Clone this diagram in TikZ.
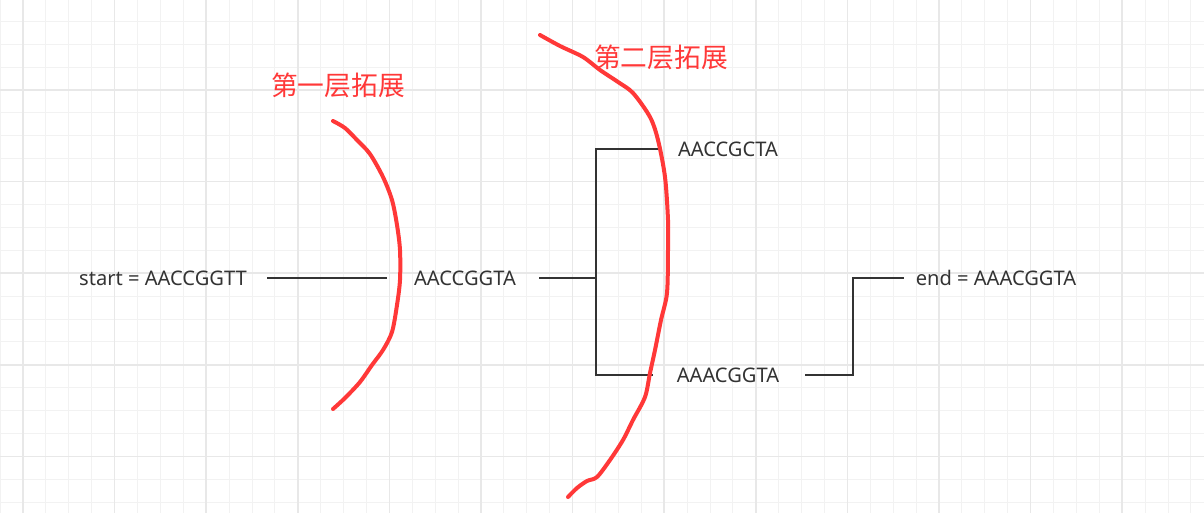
\documentclass[tikz,border=0pt]{standalone}
\usepackage{fontspec}
\setmainfont{Noto Sans}
\newfontfamily\cjk{Noto Sans CJK SC}
\definecolor{hand}{RGB}{255,56,56}
\definecolor{ink}{RGB}{51,51,51}
\begin{document}
\begin{tikzpicture}[x=0.025cm, y=-0.025cm,
    seq/.style={inner sep=0pt, font=\fontsize{14.3}{16}\selectfont, text=ink},
    layer/.style={inner sep=0pt, font=\cjk\fontsize{19}{22}\selectfont, text=hand},
    link/.style={draw=ink, line width=0.05cm},
    front/.style={draw=hand, line width=0.1cm, line cap=round, line join=round},
    minor/.style={draw=black!5, line width=0.025cm},
    major/.style={draw=black!9, line width=0.04cm}]
    \useasboundingbox (0,0) rectangle (1204,513);
    \fill[white] (0,0) rectangle (1204,513);

    % grid paper
    \foreach \i in {0,...,52} \draw[minor] ({0.1+22.9*\i},0) -- ({0.1+22.9*\i},513);
    \foreach \j in {0,...,22} \draw[minor] (0,{-1.6+22.9*\j}) -- (1204,{-1.6+22.9*\j});
    \foreach \i in {0,...,12} \draw[major] ({23+91.6*\i},0) -- ({23+91.6*\i},513);
    \foreach \j in {1,...,5} \draw[major] (0,{-1.6+91.6*\j}) -- (1204,{-1.6+91.6*\j});

    \node[seq] (s) at (163,278) {start = AACCGGTT};
    \node[seq] (a) at (465,278) {AACCGGTA};
    \node[seq] (b) at (728,149) {AACCGCTA};
    \node[seq] (c) at (728,375) {AAACGGTA};
    \node[seq] (e) at (996,278) {end = AAACGGTA};
    \coordinate (j) at (596,278);
    \coordinate (k) at (853,325);

    \draw[link, shorten <=0.5cm, shorten >=0.675cm] (s) -- (a);
    \draw[link, shorten <=0.575cm] (a) -- (j);
    \draw[link, shorten <=0.425cm] (b) -| (j);
    \draw[link, shorten <=0.6cm] (c) -| (j);
    \draw[link, shorten <=0.65cm, shorten >=0.3cm] (c) -| (k) |- (e);

    % the two fronts
    \draw[front] plot[smooth, tension=0.5] coordinates {(333,121) (345,128) (357,140)
        (370,154) (383,177) (392,200) (397,225) (400,250) (400,280) (397,305)
        (392,332) (383,350) (372,365) (360,382) (345,398) (333,409)};
    \draw[front] plot[smooth, tension=0.5] coordinates {(540,35) (560,46) (583,57)
        (600,70) (618,82) (633,93) (650,117) (658,140) (665,177) (668,220)
        (668,250) (667,293) (661,320) (655,350) (650,373) (645,397) (633,420)
        (623,440) (610,460) (597,477) (587,481) (577,488) (568,497)};

    \node[layer] (l1) at (338,85) {第一层拓展};
    \node[layer] (l2) at (661,57) {第二层拓展};
\end{tikzpicture}
\end{document}
